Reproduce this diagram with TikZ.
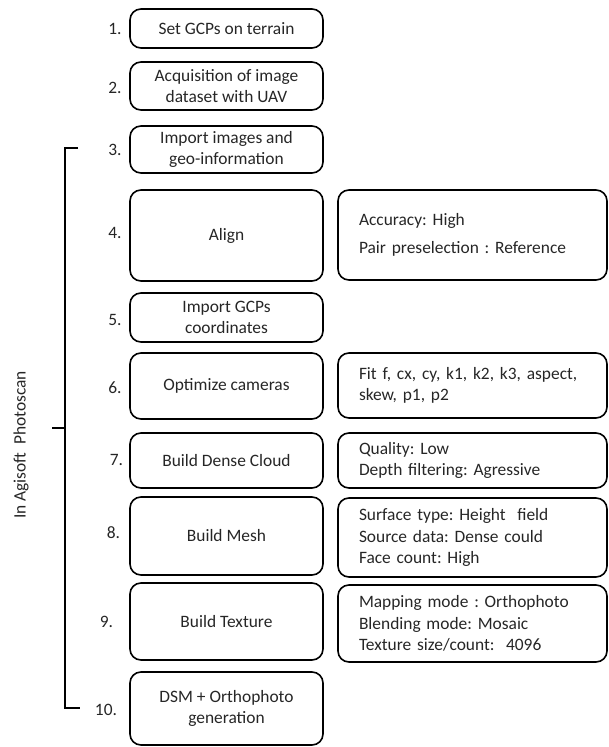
\documentclass[tikz,border=0pt]{standalone}
\usepackage{fontspec}
\setmainfont{Carlito}
\definecolor{txt}{HTML}{262626}
\frenchspacing
\begin{document}
\begin{tikzpicture}[x=1pt,y=-1pt,
  every node/.style={font=\fontsize{17.4}{21.5}\selectfont, text=txt},
  box/.style={draw=black, line width=1.6pt, rounded corners=11pt, inner sep=0pt, align=center, minimum width=193pt},
  rbox/.style={draw=black, line width=1.6pt, rounded corners=11pt, inner xsep=21pt, inner ysep=0pt, align=left, text width=227pt},
  num/.style={inner sep=0pt},
  brk/.style={draw=black, line width=1.4pt}]
\useasboundingbox (0,0) rectangle (609,747);
% left step boxes
\node[box, minimum height=39pt] (b1) at (226.5,28.5) {Set GCPs on terrain};
\node[box, minimum height=48pt] (b2) at (226.5,86) {Acquisition of image\\dataset with UAV};
\node[box, minimum height=47pt] (b3) at (226.5,149.5) {Import images and\\geo-information};
\node[box, minimum height=91pt] (b4) at (226.5,235.5) {Align};
\node[box, minimum height=49pt] (b5) at (226.5,317.5) {Import GCPs\\coordinates};
\node[box, minimum height=66pt] (b6) at (226.5,386) {Optimize cameras};
\node[box, minimum height=55pt] (b7) at (226.5,460.5) {Build Dense Cloud};
\node[box, minimum height=78pt] (b8) at (226.5,536) {Build Mesh};
\node[box, minimum height=77pt] (b9) at (226.5,621.5) {Build Texture};
\node[box, minimum height=73pt] (b10) at (226.5,708.5) {DSM + Orthophoto\\generation};
% right parameter boxes
\node[rbox, minimum height=90pt] (r4) at (472.5,235) {Accuracy: High\\[7pt]Pair preselection : Reference};
\node[rbox, minimum height=65pt] (r6) at (472.5,385.5) {Fit f, cx, cy, k1, k2, k3, aspect,\\skew, p1, p2};
\node[rbox, minimum height=55pt] (r7) at (472.5,460.5) {Quality: Low\\Depth filtering: Agressive};
\node[rbox, minimum height=79pt] (r8) at (472.5,537.5) {Surface type: Height~ field\\Source data: Dense could\\Face count: High};
\node[rbox, minimum height=77pt] (r9) at (472.5,623.5) {Mapping mode : Orthophoto\\Blending mode: Mosaic\\Texture size/count:~ 4096};
% numbers
\node[num] (n1) at (115,29) {1.};
\node[num] (n2) at (115,88) {2.};
\node[num] (n3) at (115,150) {3.};
\node[num] (n4) at (115,233) {4.};
\node[num] (n5) at (115,320) {5.};
\node[num] (n6) at (115,388) {6.};
\node[num] (n7) at (116.5,460) {7.};
\node[num] (n8) at (113.5,533) {8.};
\node[num] (n9) at (106.5,622) {9.};
\node[num] (n10) at (106,710) {10.};
% bracket
\coordinate (bt) at (78,148);
\coordinate (btc) at (65,148);
\coordinate (bbc) at (65,708);
\coordinate (bb) at (80,708);
\coordinate (bm) at (65,428);
\coordinate (bmt) at (52,428);
\draw[brk] (bt) -- (btc) -- (bbc) -- (bb);
\draw[brk] (bm) -- (bmt);
\node[rotate=90, inner sep=0pt] (lab) at (21,445) {In Agisoft~ Photoscan};
\end{tikzpicture}
\end{document}
